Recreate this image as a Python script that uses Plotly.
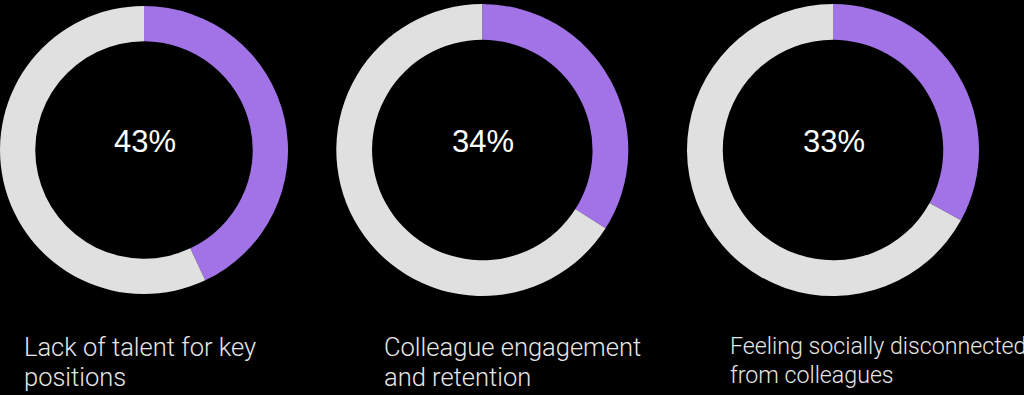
import plotly.graph_objects as go

# Share of respondents naming each challenge
categories = [
    "Lack of talent for key<br>positions",
    "Colleague engagement<br>and retention",
    "Feeling socially disconnected<br>from colleagues",
]
shares = [43, 34, 33]

W, H = 1024, 395
ACCENT = "#A173E6"
REST = "#E0E0E0"

# Ring centres / radii in pixels, label left edges and sizes
centres = [144, 482.3, 833]
radii = [144, 146, 146]
centre_y = 150
label_x = [22, 382, 727.5]
label_size = [25.5, 25.5, 23.2]
label_mid = [(346.5, 376.5), (346.5, 376.5), (346.0, 374.5)]

fig = go.Figure()

for cx, r, share in zip(centres, radii, shares):
    x0, x1 = max(cx - r, 0) / W, min(cx + r, W) / W
    y0, y1 = (H - (centre_y + 146)) / H, (H - (centre_y - 146)) / H
    fig.add_trace(go.Pie(
        values=[share, 100 - share],
        labels=["share", "rest"],
        marker=dict(colors=[ACCENT, REST], line=dict(width=0)),
        hole=0.755,
        sort=False,
        direction="clockwise",
        rotation=0,
        textinfo="none",
        hoverinfo="skip",
        showlegend=False,
        domain=dict(x=[x0, x1], y=[y0, y1]),
    ))

annotations = []
for cx, share in zip(centres, shares):
    annotations.append(dict(
        x=(cx + 1) / W, y=(H - 141.6) / H, xref="paper", yref="paper",
        text=f"{share}%", showarrow=False,
        xanchor="center", yanchor="middle",
        font=dict(family="Liberation Sans, Arial, sans-serif", size=31, color="#ffffff"),
    ))

for cat, lx, size, mids in zip(categories, label_x, label_size, label_mid):
    for line, my in zip(cat.split("<br>"), mids):
        annotations.append(dict(
            x=lx / W, y=(H - my) / H, xref="paper", yref="paper",
            text=line, showarrow=False,
            xanchor="left", yanchor="middle",
            font=dict(family="Roboto, sans-serif", size=size, color="#E6E6E6", weight=300),
        ))

fig.update_layout(
    width=W, height=H,
    margin=dict(l=0, r=0, t=0, b=0),
    paper_bgcolor="#000000",
    plot_bgcolor="#000000",
    annotations=annotations,
)

fig.write_html("out.html", config={"displayModeBar": False})
